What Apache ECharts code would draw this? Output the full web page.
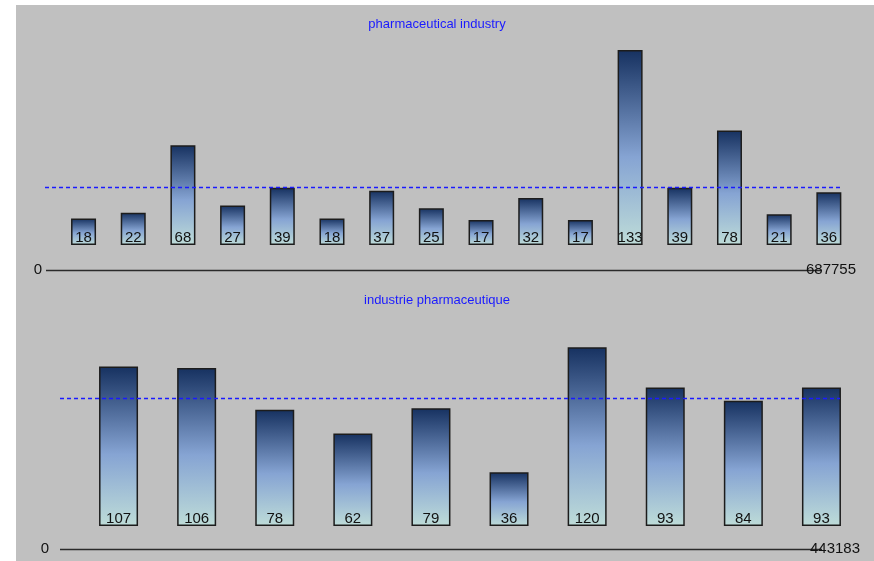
<!DOCTYPE html>
<html>
<head>
<meta charset="utf-8">
<script src="https://cdn.jsdelivr.net/npm/echarts@6/dist/echarts.min.js"></script>
<style>
  html, body { margin: 0; padding: 0; background: #ffffff; }
  #main { width: 874px; height: 561px; }
</style>
</head>
<body>
<div id="main"></div>
<script>
var topTitle = 'pharmaceutical industry';
var topCategories = ['1', '2', '3', '4', '5', '6', '7', '8', '9', '10', '11', '12', '13', '14', '15', '16'];
var topValues = [18, 22, 68, 27, 39, 18, 37, 25, 17, 32, 17, 133, 39, 78, 21, 36];
var topTotal = '687755';

var bottomTitle = 'industrie pharmaceutique';
var bottomCategories = ['1', '2', '3', '4', '5', '6', '7', '8', '9', '10'];
var bottomValues = [107, 106, 78, 62, 79, 36, 120, 93, 84, 93];
var bottomTotal = '443183';

var axisStartLabel = '0';

function mean(arr) {
  var s = 0;
  for (var i = 0; i < arr.length; i++) s += arr[i];
  return s / arr.length;
}

var chart = echarts.init(document.getElementById('main'), null, { renderer: 'canvas' });

// dark navy at the top, pale aqua at the foot, same for every bar
var barFill = new echarts.graphic.LinearGradient(0, 0, 0, 1, [
  { offset: 0, color: '#163160' },
  { offset: 0.55, color: '#86a4d3' },
  { offset: 1, color: '#bedcd8' }
]);

function barSeries(idx, values, lineFrom, lineTo) {
  var avg = mean(values);
  return {
    type: 'bar',
    xAxisIndex: idx,
    yAxisIndex: idx,
    data: values,
    barWidth: idx === 0 ? 25 : 39,
    itemStyle: { color: barFill, borderColor: '#1c1c1c', borderWidth: 1.5 },
    label: {
      show: true,
      position: 'insideBottom',
      distance: 0,
      lineHeight: 14,
      fontFamily: 'Liberation Sans',
      fontSize: 15,
      color: '#111111'
    },
    markLine: {
      silent: true,
      symbol: 'none',
      label: { show: false },
      lineStyle: { color: '#1a1aff', type: [4, 3], width: 1.3 },
      data: [[
        { xAxis: 0, yAxis: avg, x: lineFrom },
        { xAxis: 0, yAxis: avg, x: lineTo }
      ]]
    }
  };
}

function hiddenCat(idx, cats) {
  return { type: 'category', gridIndex: idx, data: cats, show: false };
}
function hiddenVal(idx) {
  return { type: 'value', gridIndex: idx, min: 0, max: 150, show: false };
}

var textFont = '15px "Liberation Sans"';

var option = {
  animation: false,
  backgroundColor: '#ffffff',
  title: [
    {
      text: topTitle, left: 'center', top: 13,
      textStyle: { color: '#1a1aff', fontFamily: 'Liberation Sans', fontSize: 13, fontWeight: 'normal' }
    },
    {
      text: bottomTitle, left: 'center', top: 289,
      textStyle: { color: '#1a1aff', fontFamily: 'Liberation Sans', fontSize: 13, fontWeight: 'normal' }
    }
  ],
  grid: [
    { left: 58.7, width: 795, top: 25, height: 220 },
    { left: 79.5, width: 781, top: 302.5, height: 223.5 }
  ],
  xAxis: [hiddenCat(0, topCategories), hiddenCat(1, bottomCategories)],
  yAxis: [hiddenVal(0), hiddenVal(1)],
  series: [
    barSeries(0, topValues, 45, 843),
    barSeries(1, bottomValues, 60, 840)
  ],
  graphic: [
    { type: 'rect', z: -10, shape: { x: 16, y: 5, width: 858, height: 556 }, style: { fill: '#c0c0c0' } },
    { type: 'line', shape: { x1: 46, y1: 270.5, x2: 822, y2: 270.5 }, style: { stroke: '#2a2a2a', lineWidth: 1.5 } },
    { type: 'line', shape: { x1: 60, y1: 549.5, x2: 822, y2: 549.5 }, style: { stroke: '#2a2a2a', lineWidth: 1.5 } },
    { type: 'text', x: 42, y: 270, style: { text: axisStartLabel, textAlign: 'right', textVerticalAlign: 'middle', font: textFont, fill: '#111111' } },
    { type: 'text', x: 49, y: 549, style: { text: axisStartLabel, textAlign: 'right', textVerticalAlign: 'middle', font: textFont, fill: '#111111' } },
    { type: 'text', x: 806, y: 270, style: { text: topTotal, textAlign: 'left', textVerticalAlign: 'middle', font: textFont, fill: '#111111' } },
    { type: 'text', x: 810, y: 549, style: { text: bottomTotal, textAlign: 'left', textVerticalAlign: 'middle', font: textFont, fill: '#111111' } }
  ]
};

chart.setOption(option);
</script>
</body>
</html>
